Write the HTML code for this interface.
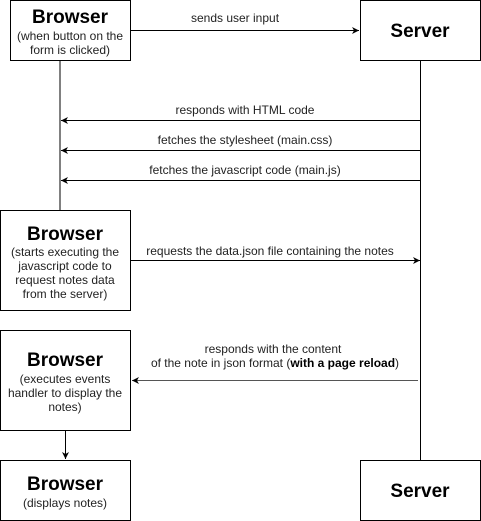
<!DOCTYPE html>
<html><head><style>html,body{margin:0;padding:0;background:#fff}svg{display:block}</style></head>
<body>
<svg width="481" height="521" viewBox="0 0 481 521" xmlns="http://www.w3.org/2000/svg" font-family="Liberation Sans, Arial, sans-serif">
<defs>
<marker id="a" markerWidth="8" markerHeight="8" refX="7" refY="4" orient="auto" markerUnits="userSpaceOnUse">
<path d="M0,0.5 L7,4 L0,7.5 L2,4 Z" fill="#000"/>
</marker>
</defs>
<g fill="none" stroke="#000" stroke-width="1">
<line x1="60" y1="60" x2="60" y2="210"/>
<line x1="420.5" y1="60" x2="420.5" y2="460"/>
<rect x="10.5" y="0.5" width="120" height="60" fill="#fff"/>
<rect x="360.5" y="0.5" width="120" height="60" fill="#fff"/>
<rect x="0.5" y="210.5" width="130" height="100" fill="#fff"/>
<rect x="0.5" y="330.5" width="130" height="100" fill="#fff"/>
<rect x="0.5" y="460.5" width="130" height="60" fill="#fff"/>
<rect x="360.5" y="460.5" width="120" height="60" fill="#fff"/>
<line x1="131" y1="30.5" x2="359" y2="30.5" marker-end="url(#a)"/>
<line x1="420" y1="120.5" x2="61" y2="120.5" marker-end="url(#a)"/>
<line x1="420" y1="150.5" x2="61" y2="150.5" marker-end="url(#a)"/>
<line x1="420" y1="180.5" x2="61" y2="180.5" marker-end="url(#a)"/>
<line x1="131" y1="260.5" x2="420" y2="260.5" marker-end="url(#a)"/>
<line x1="418" y1="380.5" x2="132" y2="380.5" stroke="#555" marker-end="url(#a)"/>
<line x1="65.5" y1="431" x2="65.5" y2="459" marker-end="url(#a)"/>
</g>
<g text-anchor="middle" fill="#000">
<text x="70" y="23" font-size="19" font-weight="bold">Browser</text>
<text x="70" y="40" font-size="12" fill="#222">(when button on the</text>
<text x="70" y="54" font-size="12" fill="#222">form is clicked)</text>
<text x="420" y="37" font-size="19" font-weight="bold">Server</text>
<text x="65" y="240" font-size="19" font-weight="bold">Browser</text>
<text x="65" y="256" font-size="12" fill="#222">(starts executing the</text>
<text x="65" y="270" font-size="12" fill="#222">javascript code to</text>
<text x="65" y="284" font-size="12" fill="#222">request notes data</text>
<text x="65" y="298" font-size="12" fill="#222">from the server)</text>
<text x="65" y="366" font-size="19" font-weight="bold">Browser</text>
<text x="65" y="383" font-size="12" fill="#222">(executes events</text>
<text x="65" y="397" font-size="12" fill="#222">handler to display the</text>
<text x="65" y="411" font-size="12" fill="#222">notes)</text>
<text x="65" y="490" font-size="19" font-weight="bold">Browser</text>
<text x="65" y="507" font-size="12" fill="#222">(displays notes)</text>
<text x="420" y="497" font-size="19" font-weight="bold">Server</text>
<g font-size="12" fill="#222">
<text x="235" y="22">sends user input</text>
<text x="245" y="114">responds with HTML code</text>
<text x="245" y="144">fetches the stylesheet (main.css)</text>
<text x="245" y="174">fetches the javascript code (main.js)</text>
<text x="270" y="255">requests the data.json file containing the notes</text>
<text x="273" y="353">responds with the content</text>
<text x="275" y="367">of the note in json format (<tspan font-weight="bold" fill="#000">with a page reload</tspan>)</text>
</g>
</g>
</svg>
</body></html>
